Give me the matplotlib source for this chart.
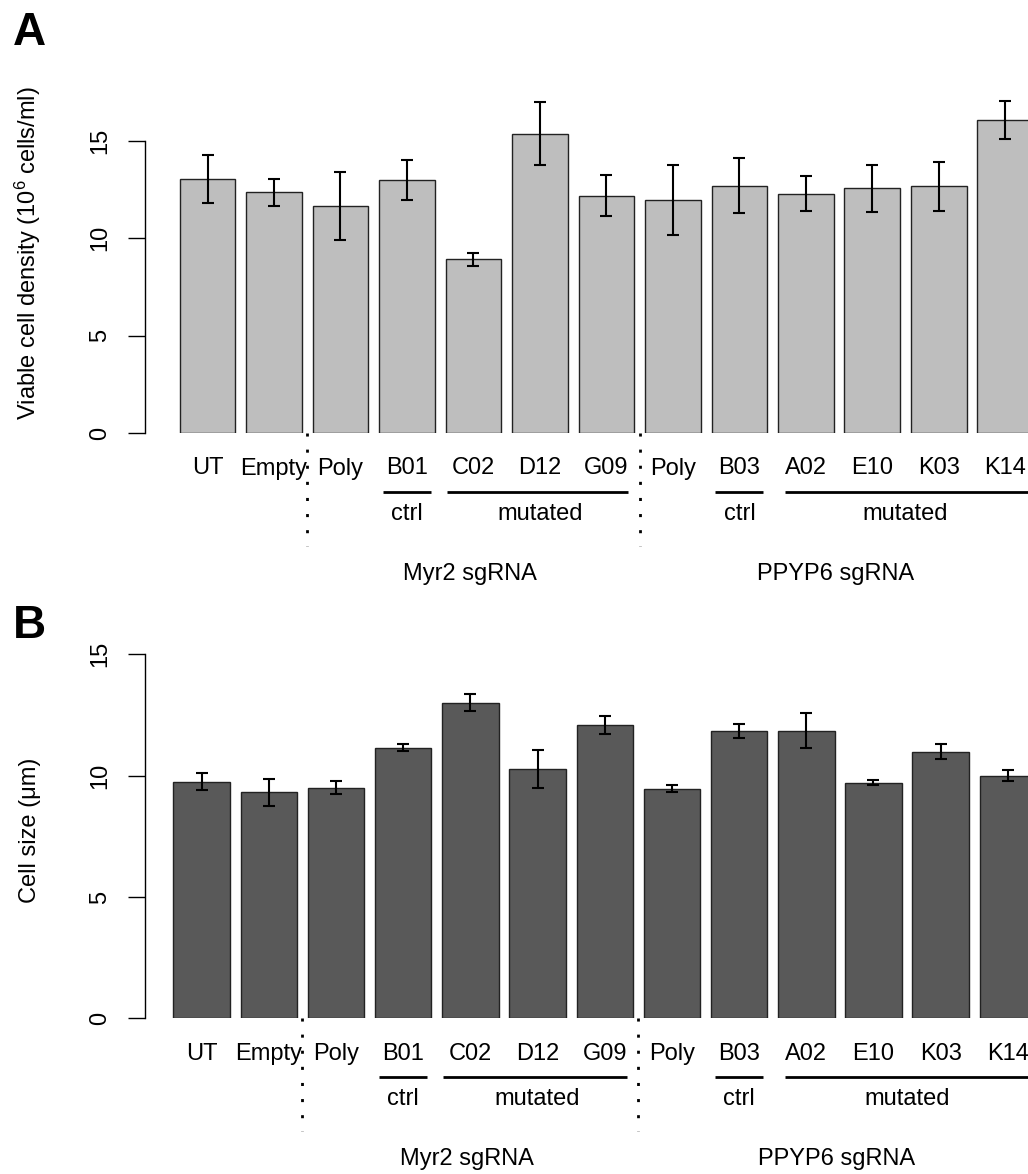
import matplotlib
matplotlib.use("Agg")
import matplotlib.pyplot as plt

plt.rcParams["font.family"] = ["Liberation Sans", "DejaVu Sans"]
plt.rcParams["mathtext.fontset"] = "custom"
plt.rcParams["mathtext.rm"] = "Liberation Sans"
plt.rcParams["mathtext.it"] = "Liberation Sans"
plt.rcParams["mathtext.default"] = "rm"

# data
labels = ["UT", "Empty", "Poly", "B01", "C02", "D12", "G09",
          "Poly", "B03", "A02", "E10", "K03", "K14"]
density = [13.03, 12.36, 11.66, 13.01, 8.92, 15.37, 12.19,
           11.95, 12.70, 12.29, 12.57, 12.67, 16.09]
density_err = [1.23, 0.70, 1.74, 1.03, 0.34, 1.63, 1.07,
               1.80, 1.40, 0.89, 1.21, 1.25, 0.97]
size = [9.75, 9.31, 9.50, 11.15, 13.00, 10.27, 12.07,
        9.46, 11.83, 11.85, 9.71, 10.99, 10.00]
size_err = [0.34, 0.55, 0.26, 0.15, 0.35, 0.80, 0.37,
            0.14, 0.28, 0.72, 0.10, 0.32, 0.23]
y_ticks = [0, 5, 10, 15]

separators = [1.5, 6.5]
sub_lines = [(2.64, 3.36), (3.6, 6.33), (7.64, 8.36), (8.68, 12.4)]
sub_labels = [("ctrl", 3), ("mutated", 5), ("ctrl", 8), ("mutated", 10.5)]
group_labels = [("Myr2 sgRNA", 3.95), ("PPYP6 sgRNA", 9.45)]

W, H = 1028, 1174
fig = plt.figure(figsize=(W / 100, H / 100), dpi=100)
FS = 17


def add_ax(left, top, right, bottom):
    return fig.add_axes([left / W, 1 - bottom / H, (right - left) / W, (bottom - top) / H])


def panel(ax, values, errs, color, ylim, xlim, ylabel, ylab_y, letter, letter_y):
    x = list(range(len(values)))
    ax.bar(x, values, width=0.84, color=color, edgecolor="#222222", linewidth=1.0)
    ax.errorbar(x, values, yerr=errs, fmt="none", ecolor="black",
                elinewidth=1.5, capsize=4.4, capthick=1.5)
    ax.set_xlim(*xlim)
    ax.set_ylim(*ylim)
    for s in ["top", "right", "bottom"]:
        ax.spines[s].set_visible(False)
    ax.spines["left"].set_bounds(0, 15)
    ax.spines["left"].set_linewidth(1.0)
    ax.set_xticks([])
    ax.set_yticks(y_ticks)
    ax.set_yticklabels([])
    ax.tick_params(axis="y", length=12, width=1.0)

    ax_h = ax.bbox.height
    ax_w = ax.bbox.width
    xt = ax.get_xaxis_transform()
    yt = ax.get_yaxis_transform()

    # y tick labels (rotated, R style)
    for t in y_ticks:
        ax.text(-38.5 / ax_w, t, str(t), transform=yt, rotation=90,
                rotation_mode="anchor", ha="center", va="baseline",
                fontsize=FS)

    # bar labels and group annotation
    for i, lab in enumerate(labels):
        ax.text(i, -41.5 / ax_h, lab, transform=xt, ha="center",
                va="baseline", fontsize=FS, clip_on=False)
    for x0, x1 in sub_lines:
        ax.plot([x0, x1], [-58.5 / ax_h] * 2, transform=xt, color="black",
                lw=2.0, solid_capstyle="butt", clip_on=False)
    for lab, xc in sub_labels:
        ax.text(xc, -86.5 / ax_h, lab, transform=xt, ha="center",
                va="baseline", fontsize=FS, clip_on=False)
    for lab, xc in group_labels:
        ax.text(xc, -147 / ax_h, lab, transform=xt, ha="center",
                va="baseline", fontsize=FS, clip_on=False)
    for xs in separators:
        ax.plot([xs, xs], [0, -113 / ax_h], transform=xt, color="black",
                lw=2.0, linestyle=(0, (1.1, 4.7)), clip_on=False)

    fig.text(36 / W, 1 - ylab_y / H, ylabel, rotation=90,
             rotation_mode="anchor", ha="center", va="baseline", fontsize=FS)
    fig.text(13 / W, 1 - letter_y / H, letter, fontsize=33,
             fontweight="bold", ha="left", va="baseline")


axA = add_ax(145, 433 - 18 * 19.47, 1028, 433)
panel(axA, density, density_err, "#BEBEBE", (0, 18), (-0.94, 12.34),
      "Viable cell density (10$^{6}$ cells/ml)", 253, "A", 45)

axB = add_ax(145, 1018.3 - 16 * 24.27, 1028, 1018.3)
panel(axB, size, size_err, "#595959", (0, 16), (-0.843, 12.30),
      "Cell size (\u03bcm)", 830, "B", 638)

fig.savefig("out.png", dpi=100)
